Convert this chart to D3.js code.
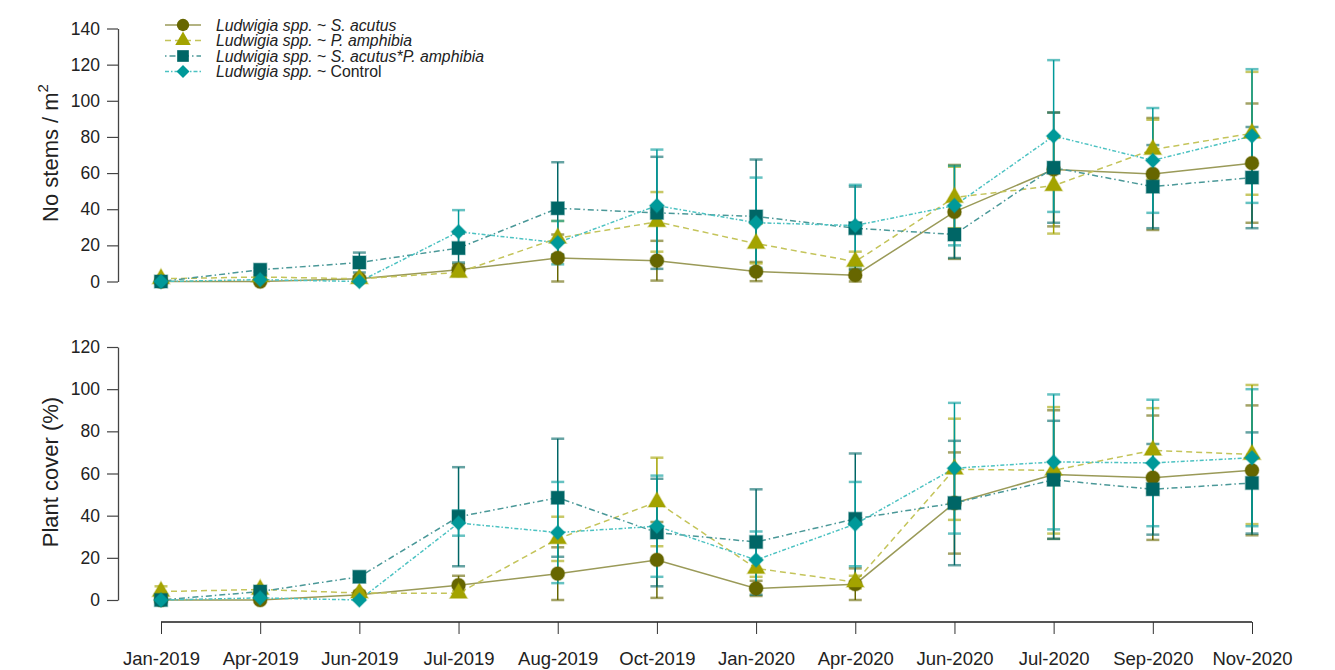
<!DOCTYPE html>
<html>
<head>
<meta charset="utf-8">
<script src="https://cdn.jsdelivr.net/npm/d3@7"></script>
<style>
	body { margin: 0; background: #fff; }
	text { font-family: "Liberation Sans", Arial, sans-serif; fill: #222; }
</style>
</head>
<body>
<div id="graph"></div>
<script>
var width = 1335
var height = 670

// sampling dates (evenly spaced on the axis)
var months = ["Jan-2019", "Apr-2019", "Jun-2019", "Jul-2019", "Aug-2019", "Oct-2019",
	"Jan-2020", "Apr-2020", "Jun-2020", "Jul-2020", "Sep-2020", "Nov-2020"];

// stem density (No stems / m2)
var stemsSA = [0, 0, 1.5, 6.5, 13, 11.5, 5.5, 3.5, 38.5, 62, 59.5, 65.5];
var stemsSAerr = [0.5, 0.5, 1, 3, 13, 11, 5.3, 3.5, 26, 31.5, 31, 33];
var stemsPA = [1.5, 2.5, 1.5, 5, 24, 33, 21, 11, 46.5, 53, 73, 82];
var stemsPAerr = [1, 1, 1, 2, 9.5, 16.5, 11, 5.5, 17, 26.5, 16.5, 34];
var stemsSP = [0, 6.5, 10.5, 18.5, 40.5, 38, 36, 29.5, 26, 63, 52.5, 57.5];
var stemsSPerr = [0.5, 1, 5.5, 8, 25.5, 31, 31.5, 23, 13, 30.5, 23, 28];
var stemsCT = [0, 1, 0, 27.5, 21.5, 42, 32.5, 31, 42, 80.5, 67, 80.5];
var stemsCTerr = [0.3, 0.5, 0.5, 12, 12, 31, 25, 22.5, 22, 42, 29, 37];

// plant cover (%)
var coverSA = [0, 0, 2.5, 7, 12.5, 19, 5.5, 7.5, 46, 59.5, 58, 61.5];
var coverSAerr = [0.5, 0.5, 1, 4.5, 12.5, 18, 3.6, 7.5, 24, 30.5, 29.5, 30.8];
var coverPA = [4, 5, 3.3, 3.2, 29, 46.5, 15, 8.5, 62, 61.5, 71, 69];
var coverPAerr = [2.5, 1.5, 1, 1, 10.5, 21, 4, 3, 24, 30, 20, 33];
var coverSP = [0, 4, 11, 39.5, 48.5, 32, 27.5, 38.5, 46, 57, 52.5, 55.5];
var coverSPerr = [0.5, 1, 1, 23.5, 28, 25.5, 25, 31, 29.5, 28, 21.5, 24];
var coverCT = [0, 1, 0, 36.5, 32, 35, 19, 36, 62.5, 65.5, 65, 67.5];
var coverCTerr = [0.3, 0.5, 0.5, 6, 24, 24, 13.5, 20, 31, 32, 30, 32.5];

var stemTicks = [0, 20, 40, 60, 80, 100, 120, 140];
var coverTicks = [0, 20, 40, 60, 80, 100, 120];

var series = [
	{ key: "SA", label: [["Ludwigia spp.", true], [" ~ ", false], ["S. acutus", true]],
		marker: "#666600", line: "#9a9a58", dash: null, shape: d3.symbolCircle, size: 150, rot: 0 },
	{ key: "PA", label: [["Ludwigia spp.", true], [" ~ ", false], ["P. amphibia", true]],
		marker: "#a3a300", line: "#c4c45a", dash: "6,4", shape: d3.symbolTriangle, size: 130, rot: 0 },
	{ key: "SP", label: [["Ludwigia spp.", true], [" ~ ", false], ["S. acutus*P. amphibia", true]],
		marker: "#006666", line: "#4a9898", dash: "1.5,3,6,3", shape: d3.symbolSquare, size: 170, rot: 0 },
	{ key: "CT", label: [["Ludwigia spp.", true], [" ~ Control", false]],
		marker: "#009999", line: "#4cc2c2", dash: "4,2,1.5,2", shape: d3.symbolSquare, size: 105, rot: 45 }
];

var stemData = { SA: [stemsSA, stemsSAerr], PA: [stemsPA, stemsPAerr], SP: [stemsSP, stemsSPerr], CT: [stemsCT, stemsCTerr] };
var coverData = { SA: [coverSA, coverSAerr], PA: [coverPA, coverPAerr], SP: [coverSP, coverSPerr], CT: [coverCT, coverCTerr] };

var svg = d3.select("#graph")
	.append("svg")
	.attr("width", width)
	.attr("height", height);

var x = d3.scalePoint()
	.domain(months)
	.range([161, 1252]);

var yTop = d3.scaleLinear().domain([0, 140]).range([281.5, 28.5]);
var yBot = d3.scaleLinear().domain([0, 120]).range([600, 347]);

function yAxis(scale, ticks) {
	var g = svg.append("g")
		.attr("transform", "translate(118,0)")
		.call(d3.axisLeft(scale).tickValues(ticks).tickSize(11).tickPadding(7).tickSizeOuter(0));
	g.select(".domain").attr("stroke", "#444").attr("stroke-width", 1.3);
	g.selectAll(".tick line").attr("stroke", "#444").attr("stroke-width", 1.2);
	g.selectAll(".tick text")
		.attr("font-size", 17.5)
		.attr("font-family", "Liberation Sans, Arial, sans-serif")
		.attr("fill", "#222");
	return g;
}

function panel(scale, data) {
	var g = svg.append("g");
	var line = d3.line()
		.x((d, i) => x(months[i]))
		.y((d) => scale(d));

	series.forEach((s) => {
		g.append("path")
			.datum(data[s.key][0])
			.attr("fill", "none")
			.attr("stroke", s.line)
			.attr("stroke-width", 1.5)
			.attr("stroke-dasharray", s.dash)
			.attr("d", line);
	});

	series.forEach((s) => {
		var vals = data[s.key][0], errs = data[s.key][1];
		var eb = g.append("g").selectAll("g")
			.data(vals)
			.enter()
			.append("g");
		eb.append("line")
			.attr("x1", (d, i) => x(months[i]))
			.attr("x2", (d, i) => x(months[i]))
			.attr("y1", (d, i) => scale(Math.max(0, d - errs[i])))
			.attr("y2", (d, i) => scale(d + errs[i]))
			.attr("stroke", s.marker)
			.attr("stroke-width", 1.5);
		[1, -1].forEach((sign) => {
			eb.append("line")
				.attr("x1", (d, i) => x(months[i]) - 6.5)
				.attr("x2", (d, i) => x(months[i]) + 6.5)
				.attr("y1", (d, i) => scale(Math.max(0, d + sign * errs[i])))
				.attr("y2", (d, i) => scale(Math.max(0, d + sign * errs[i])))
				.attr("stroke", s.marker)
				.attr("stroke-opacity", 0.6)
				.attr("stroke-width", 2.5);
		});
	});

	series.forEach((s) => {
		g.append("g").selectAll("path")
			.data(data[s.key][0])
			.enter()
			.append("path")
			.attr("transform", (d, i) => "translate(" + x(months[i]) + "," + scale(d) + ") rotate(" + s.rot + ")")
			.attr("d", d3.symbol().type(s.shape).size(s.size))
			.attr("fill", s.marker)
			.attr("stroke", s.marker)
			.attr("stroke-opacity", 0.35)
			.attr("stroke-width", 1.5);
	});
}

yAxis(yTop, stemTicks);
yAxis(yBot, coverTicks);
panel(yTop, stemData);
panel(yBot, coverData);

// bottom x axis
var xg = svg.append("g")
	.attr("transform", "translate(0,622)")
	.call(d3.axisBottom(x).tickSize(12).tickPadding(18).tickSizeOuter(0));
xg.select(".domain").attr("stroke", "#555").attr("stroke-width", 2).attr("d", "M161,0H1252");
xg.selectAll(".tick line").attr("stroke", "#333").attr("stroke-width", 1);
xg.selectAll(".tick text")
	.attr("font-size", 18.5)
	.attr("font-family", "Liberation Sans, Arial, sans-serif")
	.attr("fill", "#222");

// axis titles
var t1 = svg.append("text")
	.attr("transform", "translate(58,153) rotate(-90)")
	.attr("text-anchor", "middle")
	.attr("font-size", 22);
t1.append("tspan").text("No stems / m");
t1.append("tspan").attr("font-size", 15).attr("dy", -10).text("2");

svg.append("text")
	.attr("transform", "translate(58,472) rotate(-90)")
	.attr("text-anchor", "middle")
	.attr("font-size", 22)
	.text("Plant cover (%)");

// legend
var legend = svg.append("g")
	.attr("transform", "translate(0,25)")
	.selectAll("g")
	.data(series)
	.enter()
	.append("g")
	.attr("transform", (d, i) => "translate(0," + (i * 15.5) + ")");

legend.append("line")
	.attr("x1", 165).attr("x2", 201)
	.attr("stroke", (d) => d.line)
	.attr("stroke-width", 1.5)
	.attr("stroke-dasharray", (d) => d.dash);

legend.append("path")
	.attr("transform", (d) => "translate(183,0) rotate(" + d.rot + ")")
	.attr("d", (d) => d3.symbol().type(d.shape).size(d.size * 0.8)())
	.attr("fill", (d) => d.marker);

legend.append("text")
	.attr("x", 216)
	.attr("y", 5.5)
	.attr("font-size", 15.8)
	.selectAll("tspan")
	.data((d) => d.label)
	.enter()
	.append("tspan")
	.attr("font-style", (d) => d[1] ? "italic" : "normal")
	.text((d) => d[0]);
</script>
</body>
</html>
